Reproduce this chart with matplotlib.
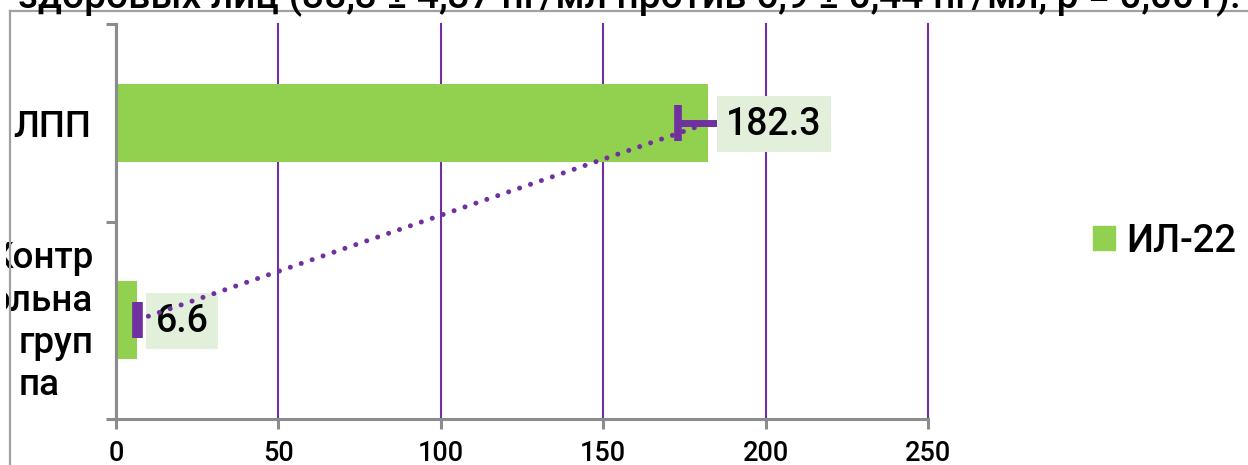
import matplotlib
matplotlib.use("Agg")
import matplotlib.pyplot as plt
from matplotlib.lines import Line2D
from matplotlib.patches import Patch
from matplotlib.transforms import Bbox, TransformedBbox

plt.rcParams['font.family'] = ['Roboto', 'DejaVu Sans']
plt.rcParams['font.weight'] = 'medium'

# ---- data -------------------------------------------------------------
categories = ["Контрольна группа", "ЛПП"]
category_lines = [["Контр", "ольна", "груп", "па"], ["ЛПП"]]
values = [6.6, 182.3]
errors = [0.5, 9.3]
series_name = "ИЛ-22"
x_ticks = [0, 50, 100, 150, 200, 250]
caption = "здоровых лиц (38,3 ± 4,37 пг/мл против 6,9 ± 0,44 пг/мл, р = 0,001)."

# ---- style ------------------------------------------------------------
GREEN = "#92D050"
PURPLE = "#7030A0"
LABEL_BG = "#E2EFDA"
AXIS_GRAY = "#8C8C8C"
FRAME_GRAY = "#A0A0A0"

W, H = 1248, 465
PX = 72 / 100  # points per pixel

fig = plt.figure(figsize=(W / 100, H / 100), dpi=100)
ax = fig.add_axes([116 / W, 1 - 418.5 / H, 812 / W, 394 / H])

y = list(range(len(categories)))

ax.barh(y, values, height=0.4, color=GREEN, zorder=2)
ax.errorbar(values, y, xerr=errors, fmt='none', ecolor=PURPLE,
            elinewidth=5, capsize=13, capthick=5.5, zorder=3)
# dotted connector between the two bar ends
ax.plot(values, y, color=PURPLE, linewidth=3.6, linestyle=(0, (0.01, 2.3)),
        dash_capstyle='round', zorder=5)

for v, yi in zip(values, y):
    ax.annotate(f"{v:.1f}", xy=(v, yi), xytext=(18 * PX, 3 * PX),
                textcoords='offset points', ha='left', va='center_baseline',
                fontsize=27, color='black', zorder=4,
                bbox=dict(boxstyle='square,pad=0.25', fc=LABEL_BG, ec='none'))

# axes cosmetics
ax.set_xlim(0, 250)
ax.set_xticks(x_ticks)
ax.set_ylim(-0.5, len(categories) - 0.5)
ax.set_yticks([i - 0.5 for i in range(len(categories) + 1)])
ax.set_yticklabels([])
ax.xaxis.grid(True, color=PURPLE, linewidth=1.5)
ax.set_axisbelow(True)
for gl in ax.get_xgridlines():
    gl.set_clip_on(False)
for side in ('top', 'right'):
    ax.spines[side].set_visible(False)
for side in ('left', 'bottom'):
    ax.spines[side].set_color(AXIS_GRAY)
    ax.spines[side].set_linewidth(2.2)
ax.tick_params(axis='both', length=7.2, width=2.2, color=AXIS_GRAY,
               labelsize=19.5, pad=8.5)

# category labels, wrapped and clipped at the left edge of the chart area
clip = TransformedBbox(Bbox([[6 / W, 0], [1, 1 - 11 / H]]), fig.transFigure)
line_layout = {
    0: [(-23, 52, 'right'), (-23, 9, 'right'), (-97, -33, 'left'), (-97, -75, 'left')],
    1: [(-25, -14, 'right')],
}
for yi, lines in enumerate(category_lines):
    for text, (dx, dy, ha) in zip(lines, line_layout[yi]):
        t = ax.annotate(text, xy=(0, yi), xycoords=('axes fraction', 'data'),
                        xytext=(dx * PX, dy * PX), textcoords='offset points',
                        ha=ha, va='baseline', fontsize=26.5, color='black')
        t.set_clip_box(clip)
        t.set_clip_on(True)

# legend
fig.legend(handles=[Patch(color=GREEN, label=series_name)], loc='center left',
           bbox_to_anchor=(1093 / W, 1 - 241 / H), frameon=False, fontsize=27.5,
           handlelength=0.58, handleheight=0.58, handletextpad=0.28,
           borderpad=0, borderaxespad=0)

# outer frame of the chart area and the running text above it
fig.add_artist(Line2D([10 / W, 10 / W], [0, 1 - 11 / H], color=FRAME_GRAY,
                      linewidth=1.6, transform=fig.transFigure))
fig.add_artist(Line2D([10 / W, 1], [1 - 11 / H, 1 - 11 / H], color=FRAME_GRAY,
                      linewidth=1.6, transform=fig.transFigure))
fig.text(18 / W, 1 - 7 / H, caption, ha='left', va='baseline', fontsize=28,
         color='black')

fig.savefig("out.png", dpi=100)
